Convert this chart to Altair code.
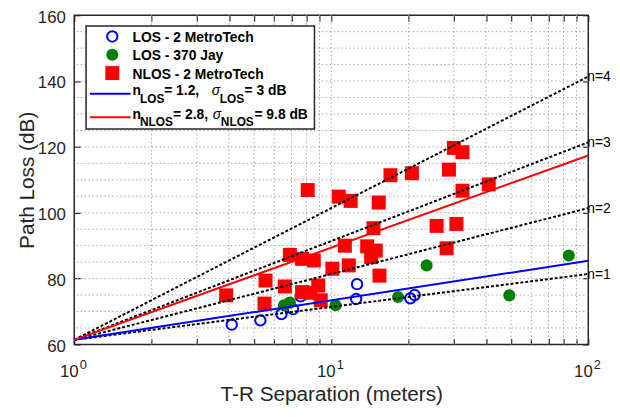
import altair as alt
import pandas as pd
import math

FONT = "Liberation Sans"
AX = "#262626"

# ---------------- data ----------------
los_mt_x = [4.1, 5.3, 6.4, 7.1, 7.6, 12.5, 12.6, 20.3, 21.1]
los_mt_y = [66.0, 67.3, 69.2, 70.7, 74.6, 73.8, 78.3, 74.0, 75.0]

los_jay_x = [6.55, 6.9, 10.4, 18.2, 23.5, 49.3, 84.0]
los_jay_y = [71.9, 72.7, 71.9, 74.4, 84.0, 74.9, 87.0]

nlos_x = [3.9, 5.5, 5.55, 6.6, 6.9, 7.7, 8.55, 8.1, 7.7, 8.3, 8.9, 9.1,
          10.1, 10.7, 11.9, 11.3, 11.7, 15.3, 14.6, 13.8, 14.9, 14.3, 15.4,
          17.0, 20.6, 25.7, 30.7, 28.1, 28.7, 30.0, 32.4, 32.4, 41.0]
nlos_y = [74.9, 72.4, 79.4, 77.6, 87.2, 86.0, 85.5, 106.9, 75.9, 75.7, 77.9, 73.4,
          83.0, 104.9, 103.6, 90.0, 84.0, 103.1, 95.3, 89.8, 88.5, 86.5, 80.9,
          111.4, 112.0, 96.0, 96.6, 89.2, 113.1, 119.7, 118.4, 106.7, 108.6]

# path-loss model lines: PL(d) = PL(1 m) + 10 n log10(d)
pl_1m = 61.4
ref_names = ["n=1", "n=2", "n=3", "n=4"]
ref_n = [1, 2, 3, 4]
fit_names = ["LOS", "NLOS"]
fit_n = [1.2, 2.8]
line_d = [1, 100]

legend_labels = ["LOS - 2 MetroTech", "LOS - 370 Jay", "NLOS - 2 MetroTech"]

x_ticks = [1, 2, 3, 4, 5, 6, 7, 8, 9, 10, 20, 30, 40, 50, 60, 70, 80, 90, 100]
x_grid = [2, 3, 4, 5, 6, 7, 8, 9, 10, 20, 30, 40, 50, 60, 70, 80, 90]
x_decades = [1, 10, 100]
x_exponents = ["0", "1", "2"]
y_ticks = [60, 80, 100, 120, 140, 160]
y_grid = list(range(65, 160, 5))

# ---------------- tables ----------------
df_los_mt = pd.DataFrame({"d": los_mt_x, "pl": los_mt_y})
df_los_jay = pd.DataFrame({"d": los_jay_x, "pl": los_jay_y})
df_nlos = pd.DataFrame({"d": nlos_x, "pl": nlos_y})

ref_rows = [{"name": nm, "d": d, "pl": pl_1m + 10 * n * math.log10(d)}
            for nm, n in zip(ref_names, ref_n) for d in line_d]
df_ref = pd.DataFrame(ref_rows)
df_ref_lab = pd.DataFrame({"name": ref_names, "d": [100] * 4,
                           "pl": [pl_1m + 20 * n for n in ref_n]})
fit_rows = [{"name": nm, "d": d, "pl": pl_1m + 10 * n * math.log10(d)}
            for nm, n in zip(fit_names, fit_n) for d in line_d]
df_fit = pd.DataFrame(fit_rows)

df_xgrid = pd.DataFrame({"v": x_grid})
df_ygrid = pd.DataFrame({"v": y_grid})
df_xt = pd.DataFrame({"v": x_ticks})
df_yt = pd.DataFrame({"v": y_ticks})
df_dec = pd.DataFrame({"v": x_decades, "e": x_exponents})
one = pd.DataFrame({"a": [0]})

W, H = 520, 333
xs = alt.Scale(type="log", domain=[1, 100], nice=False)
ys = alt.Scale(domain=[60, 160], nice=False, zero=False)

def X(f, axis=None):
    return alt.X(f, type="quantitative", scale=xs, axis=axis)

def Y(f, axis=None):
    return alt.Y(f, type="quantitative", scale=ys, axis=axis)

grid_style = dict(color="#a8a8a8", strokeDash=[1.5, 2.5], strokeWidth=1)
tick_style = dict(tickColor=AX, tickWidth=1.2, tickSize=6, offset=-6)

gx = alt.Chart(df_xgrid).mark_rule(**grid_style).encode(
    x=X("v", alt.Axis(orient="bottom", values=x_ticks, labels=False, domain=False,
                      grid=False, **tick_style,
                      title="T-R Separation (meters)", titleFont=FONT,
                      titleFontSize=21, titleFontWeight="normal", titleColor=AX,
                      titlePadding=39)))
gy = alt.Chart(df_ygrid).mark_rule(**grid_style).encode(
    y=Y("v", alt.Axis(orient="left", values=y_ticks, domain=False, grid=False,
                      **tick_style, labelOffset=2,
                      labelFont=FONT, labelFontSize=17, labelColor=AX, labelPadding=9,
                      title="Path Loss (dB)", titleFont=FONT, titleFontSize=21,
                      titleFontWeight="normal", titleColor=AX, titlePadding=0)))
top_ax = alt.Chart(df_xt).mark_rule(opacity=0).encode(
    x=X("v", alt.Axis(orient="top", values=x_ticks, labels=False, domain=False,
                      grid=False, **tick_style, title=None)))
right_ax = alt.Chart(df_yt).mark_rule(opacity=0).encode(
    y=Y("v", alt.Axis(orient="right", values=y_ticks, labels=False, domain=False,
                      grid=False, **tick_style, title=None)))

xlab_base = alt.Chart(df_dec).mark_text(
    text="10", align="right", baseline="alphabetic", dx=4.5, font=FONT,
    fontSize=17, color=AX).encode(x=X("v"), y=alt.value(H + 33))
xlab_exp = alt.Chart(df_dec).mark_text(
    align="left", baseline="alphabetic", dx=5.5, font=FONT,
    fontSize=13, color=AX).encode(x=X("v"), y=alt.value(H + 24.5), text="e:N")

S_OPEN, S_DOT, S_SQ = 110, 150, 200

pts_los_mt = alt.Chart(df_los_mt).mark_point(
    shape="circle", filled=False, color="#0000ff", strokeWidth=2, size=S_OPEN,
    opacity=1).encode(x=X("d"), y=Y("pl"))
pts_jay = alt.Chart(df_los_jay).mark_circle(
    color="#008000", size=S_DOT, opacity=1).encode(x=X("d"), y=Y("pl"))
pts_nlos = alt.Chart(df_nlos).mark_square(
    color="#ff0000", size=S_SQ, opacity=1).encode(x=X("d"), y=Y("pl"))

ref_lines = alt.Chart(df_ref).mark_line(
    color="black", strokeDash=[3, 2], strokeWidth=2).encode(
    x=X("d"), y=Y("pl"), detail="name:N")
fit_lines = alt.Chart(df_fit).mark_line(strokeWidth=2).encode(
    x=X("d"), y=Y("pl"),
    color=alt.Color("name:N", scale=alt.Scale(domain=fit_names,
                                              range=["#0000ff", "#ff0000"]),
                    legend=None))
ref_text = alt.Chart(df_ref_lab).mark_text(
    align="left", baseline="middle", dx=-1, dy=1, font=FONT, fontSize=14,
    color="black").encode(x=X("d"), y=Y("pl"), text="name:N")

# ---------------- legend (drawn by hand) ----------------
def txt(s, x, y, size=14, weight="bold", style="normal"):
    return alt.Chart(one).mark_text(
        text=s, align="left", baseline="alphabetic", font=FONT, fontSize=size,
        fontWeight=weight, fontStyle=style, color="black").encode(
        x=alt.value(x), y=alt.value(y))

leg_box = alt.Chart(one).mark_rect(
    fill="white", stroke=AX, strokeWidth=1.5).encode(
    x=alt.value(12), x2=alt.value(243), y=alt.value(11), y2=alt.value(115))
leg_sym1 = alt.Chart(one).mark_point(
    shape="circle", filled=False, color="#0000ff", strokeWidth=2, size=S_OPEN,
    opacity=1).encode(x=alt.value(38.5), y=alt.value(21.5))
leg_sym2 = alt.Chart(one).mark_circle(color="#008000", size=S_DOT, opacity=1).encode(
    x=alt.value(38.5), y=alt.value(40))
leg_sym3 = alt.Chart(one).mark_square(color="#ff0000", size=S_SQ, opacity=1).encode(
    x=alt.value(38.5), y=alt.value(58.5))
leg_l1 = alt.Chart(one).mark_rule(color="#0000ff", strokeWidth=2).encode(
    x=alt.value(16), x2=alt.value(57), y=alt.value(79.5))
leg_l2 = alt.Chart(one).mark_rule(color="#ff0000", strokeWidth=2).encode(
    x=alt.value(16), x2=alt.value(57), y=alt.value(103.3))

legend_layers = [
    leg_box, leg_sym1, leg_sym2, leg_sym3, leg_l1, leg_l2,
    txt(legend_labels[0], 59, 27), txt(legend_labels[1], 59, 45.5),
    txt(legend_labels[2], 59, 64),
    txt("n", 59, 81), txt("LOS", 66.5, 88.7, 12), txt("= 1.2,", 91, 81),
    txt("\u03c3", 139, 81, 14, "normal", "italic"), txt("LOS", 147.3, 88.7, 12),
    txt("= 3 dB", 172.3, 81),
    txt("n", 59, 104.5), txt("NLOS", 66.5, 112.5, 12), txt("= 2.8,", 100, 104.5),
    txt("\u03c3", 140, 104.5, 14, "normal", "italic"), txt("NLOS", 148.3, 112.5, 12),
    txt("= 9.8 dB", 182.3, 104.5),
]

chart = alt.layer(
    gx, gy, top_ax, right_ax, xlab_base, xlab_exp,
    pts_los_mt, pts_jay, pts_nlos, ref_lines, fit_lines, ref_text,
    *legend_layers
).resolve_axis(x="independent", y="independent").properties(
    width=W, height=H,
    autosize=alt.AutoSizeParams(type="none"),
    padding={"left": 67, "top": 5, "right": 24, "bottom": 62},
    background="white",
).configure_view(stroke=AX, strokeWidth=1.5)

chart.save("out.html", embed_options={"renderer": "svg", "actions": False})
